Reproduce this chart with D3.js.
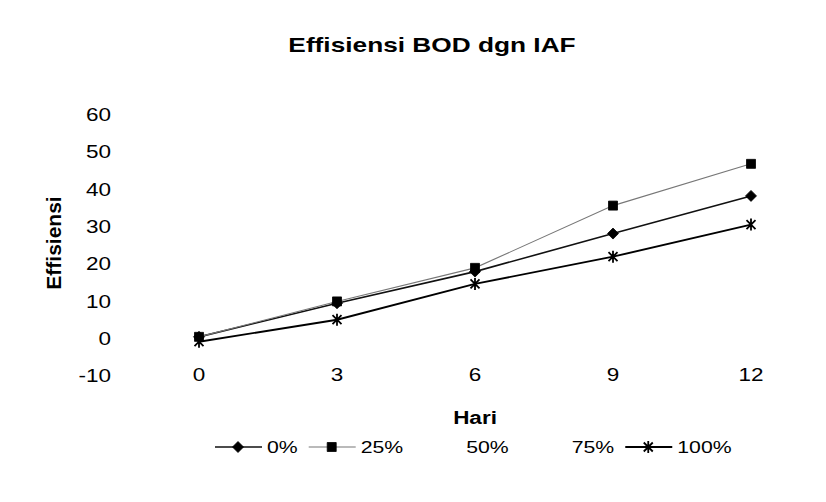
<!DOCTYPE html>
<html>
<head>
<meta charset="utf-8">
<script src="https://cdn.jsdelivr.net/npm/d3@7"></script>
<style>
  body { margin: 0; background: #fff; }
  text { font-family: "Liberation Sans", Arial, sans-serif; fill: #000; }
</style>
</head>
<body>
<div id="container"></div>
<script>
// values
var days = [0, 3, 6, 9, 12];
var yTicks = [-10, 0, 10, 20, 30, 40, 50, 60];
var seriesNames = ['0%', '25%', '50%', '75%', '100%'];
var eff0 = [0.5, 9.5, 18, 28.2, 38.3];
var eff25 = [0.5, 10, 19, 35.7, 46.9];
// 50% and 75% were printed in light colours and did not survive the scan
var eff50 = [null, null, null, null, null];
var eff75 = [null, null, null, null, null];
var eff100 = [-0.8, 5.1, 14.7, 22, 30.6];

var width = 826, height = 502;
var sx = 1.25; // the scan is stretched sideways, text too

var svg = d3.select('#container')
      .append('svg')
      .attr('width', width)
      .attr('height', height);

var x = d3.scalePoint().domain(days).range([199, 751]);
var y = d3.scaleLinear().domain([-10, 60]).range([376, 115]);

var addText = function(str, px, py, size, bold, anchor, rot) {
  var g = svg.append('g')
    .attr('transform', 'translate(' + px + ',' + py + ')' + (rot ? ' rotate(' + rot + ')' : ''));
  return g.append('text')
    .attr('transform', rot ? 'scale(1,1)' : 'scale(' + sx + ',1)')
    .attr('text-anchor', anchor || 'middle')
    .attr('dominant-baseline', 'central')
    .style('font-size', size + 'px')
    .style('font-weight', bold ? 'bold' : 'normal')
    .text(str);
};

addText('Effisiensi BOD dgn IAF', 432, 44, 21, true);
addText('Effisiensi', 53, 243, 21, true, 'middle', -90);
addText('Hari', 475, 418, 18, true);

yTicks.forEach(function(t) {
  addText(t, 111, y(t), 18, false, 'end');
});
days.forEach(function(d) {
  addText(d, x(d), 375, 18, false);
});

var diamond = 'M0,-5.5L5.5,0L0,5.5L-5.5,0Z';
var square = 'M-4.5,-4.5H4.5V4.5H-4.5Z';
var star = 'M-4.5,-4.5L4.5,4.5M-4.5,4.5L4.5,-4.5M0,-6V6';

var series = [
  {name: seriesNames[0], values: eff0, stroke: '#111', sw: 1.6, marker: diamond, fill: '#000'},
  {name: seriesNames[1], values: eff25, stroke: '#777', sw: 1.1, marker: square, fill: '#000'},
  {name: seriesNames[2], values: eff50, stroke: 'none', sw: 0, marker: null},
  {name: seriesNames[3], values: eff75, stroke: 'none', sw: 0, marker: null},
  {name: seriesNames[4], values: eff100, stroke: '#000', sw: 1.9, marker: star, fill: 'none'}
];

var line = d3.line()
  .defined(function(d) { return d != null; })
  .x(function(d, i) { return x(days[i]); })
  .y(function(d) { return y(d); });

var drawMarker = function(sel, s) {
  sel.attr('d', s.marker)
    .style('fill', s.fill)
    .style('stroke', '#000')
    .style('stroke-width', s.marker === star ? 1.8 : 0.8);
};

series.forEach(function(s) {
  if (s.stroke === 'none') return;
  svg.append('path')
    .attr('d', line(s.values))
    .style('fill', 'none')
    .style('stroke', s.stroke)
    .style('stroke-width', s.sw);
  svg.selectAll(null)
    .data(s.values.filter(function(v) { return v != null; }))
    .enter()
    .append('path')
    .attr('transform', function(d, i) { return 'translate(' + x(days[i]) + ',' + y(d) + ')'; })
    .call(drawMarker, s);
});

// legend
var lx = 215, ly = 447;
series.forEach(function(s) {
  if (s.stroke !== 'none') {
    svg.append('line')
      .attr('x1', lx).attr('x2', lx + 47)
      .attr('y1', ly).attr('y2', ly)
      .style('stroke', s.stroke)
      .style('stroke-width', s.sw);
    svg.append('path')
      .attr('transform', 'translate(' + (lx + 23) + ',' + ly + ')')
      .call(drawMarker, s);
  }
  var t = addText(s.name, lx + 52, ly, 17, false, 'start');
  lx += 52 + t.node().getComputedTextLength() * sx + 11;
});
</script>
</body>
</html>
